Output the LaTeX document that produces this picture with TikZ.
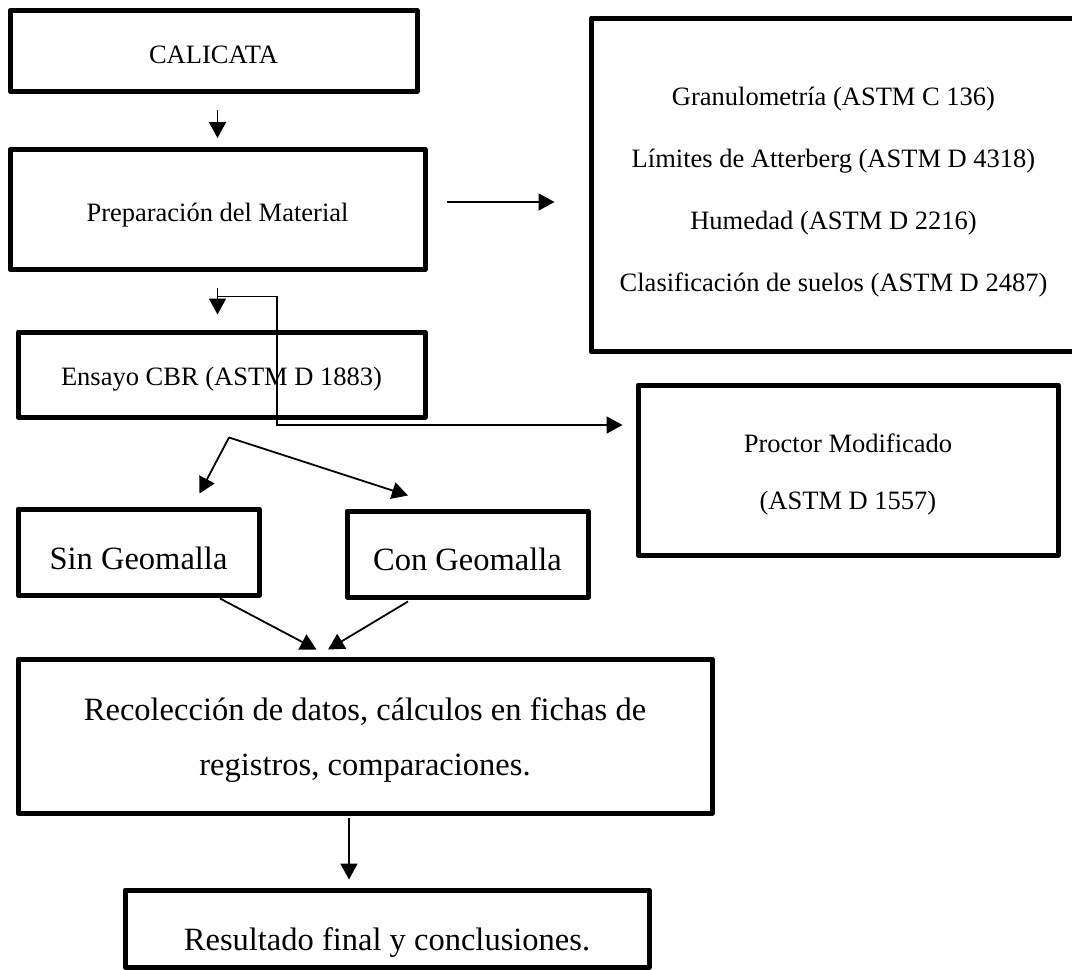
\documentclass[tikz,border=0pt]{standalone}
\usepackage{fontspec}
\setmainfont{Liberation Serif}
\usetikzlibrary{arrows.meta,calc}
\begin{document}
\begin{tikzpicture}[x=1pt,y=-1pt,
  box/.style={draw, line width=5pt, line join=round, inner sep=0pt, align=center},
  small/.style={font=\fontsize{26.5}{32}\selectfont},
  big/.style={font=\fontsize{32.5}{55}\selectfont},
  arr/.style={line width=1.8pt, -{Triangle[width=17pt,length=16pt]}}]
\useasboundingbox (0,0) rectangle (1072,970);
\fill[white] (0,0) rectangle (1072,970);

\node[box,small,minimum width=407pt,minimum height=80.5pt,text height=26pt,text depth=0pt] (cal) at (213.5,50.75) {CALICATA};
\node[box,small,minimum width=415pt,minimum height=120pt,text height=24.5pt,text depth=0pt] (prep) at (217.5,209.5) {Preparación del Material};
\node[box,font=\fontsize{26.5}{62}\selectfont,minimum width=485pt,minimum height=333.5pt] (lab) at (833.5,185)
  {\rule{0pt}{32pt}Granulometría (ASTM C 136)\\Límites de Atterberg (ASTM D 4318)\\Humedad (ASTM D 2216)\\Clasificación de suelos (ASTM D 2487)};
\node[box,small,minimum width=407pt,minimum height=85pt,text height=22.5pt,text depth=0pt] (cbr) at (221.5,374.5) {Ensayo CBR (ASTM D 1883)};
\node[box,font=\fontsize{26.5}{57}\selectfont,minimum width=420pt,minimum height=170pt] (proc) at (848,470) {\rule{0pt}{28pt}Proctor Modificado\\(ASTM D 1557)};
\node[box,big,minimum width=241pt,minimum height=86pt,text height=35.5pt,text depth=0pt] (sin) at (138.5,552) {Sin Geomalla};
\node[box,big,minimum width=241pt,minimum height=86pt,text height=33.5pt,text depth=0pt] (con) at (467.5,554) {Con Geomalla};
\node[box,big,minimum width=694pt,minimum height=154pt] (rec) at (365,736) {\rule{0pt}{30.5pt}Recolección de datos, cálculos en fichas de\\registros, comparaciones.};
\node[box,big,minimum width=524pt,minimum height=77pt,text height=44.5pt,text depth=0pt] (res) at (387,928.5) {Resultado final y conclusiones.};

% connectors
\draw[arr, shorten <=16pt, shorten >=9pt] (prep.north |- cal.south) -- (prep.north);
\coordinate (pe) at ($(prep.east)+(0,-7.5)$);
\draw[arr, shorten <=19pt, shorten >=34pt] (pe) -- (pe -| lab.west);
\draw[arr, shorten <=15.5pt, shorten >=15pt] (prep.south) -- (prep.south |- cbr.north);
\coordinate (el) at ($(prep.south)+(0,24.5)$);
\coordinate (ptip) at ($(proc.west)+(-13,-45)$);
\draw[arr] (el) -- ++(59.5,0) |- (ptip);
\coordinate (split) at ($(cbr.south)+(7.5,18)$);
\draw[arr] (split) -- ($(sin.north)+(61,-13)$);
\draw[arr] (split) -- ($(con.north)+(-59.5,-13)$);
\draw[arr] ($(sin.south)+(81.5,1)$) -- ($(rec.north)+(-48.5,-7)$);
\draw[arr] ($(con.south)+(-59.5,2)$) -- ($(rec.north)+(-37,-7)$);
\draw[arr] ($(rec.south)+(-16,2)$) -- ($(res.north)+(-38,-8)$);
\end{tikzpicture}
\end{document}
